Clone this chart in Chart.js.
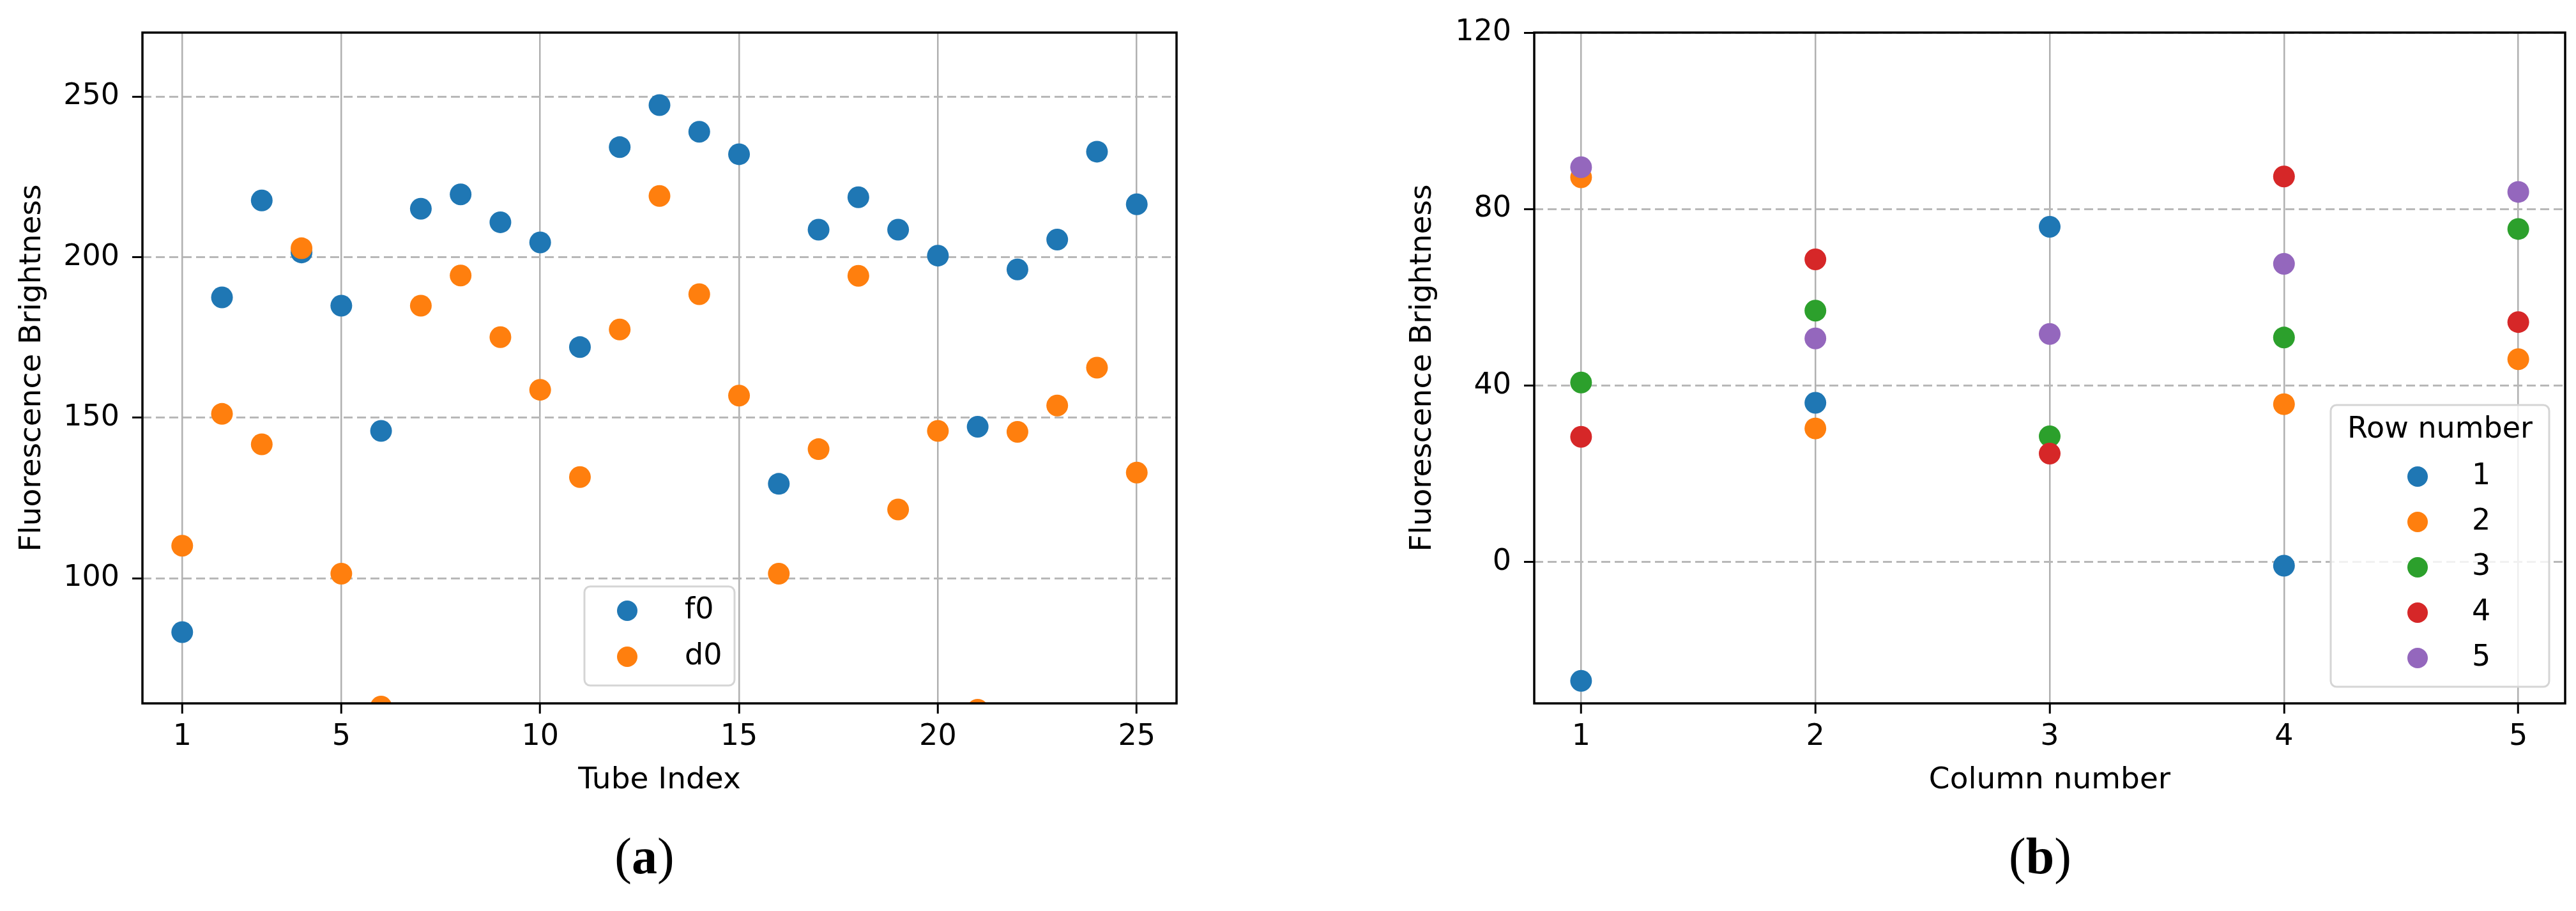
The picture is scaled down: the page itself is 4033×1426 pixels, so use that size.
<!DOCTYPE html>
<html>
<head>
<meta charset="utf-8">
<script src="https://cdn.jsdelivr.net/npm/chart.js@4/dist/chart.umd.min.js"></script>
<style>
  body { margin: 0; width: 4033px; height: 1426px; background: #fff; overflow: hidden; position: relative; }
  .wrap { position: absolute; top: 0; height: 1300px; }
  .panel { position: absolute; top: 1340px; font-family: "Liberation Serif", serif; font-size: 80px; color: #000;
           transform: translate(-50%, -50%); line-height: 1; }
</style>
</head>
<body>
<div class="wrap" style="left:0;width:2000px"><canvas id="chartA"></canvas></div>
<div class="wrap" style="left:2000px;width:2033px"><canvas id="chartB"></canvas></div>
<div class="panel" style="left:1009px">(<b>a</b>)</div>
<div class="panel" style="left:3194px">(<b>b</b>)</div>
<script>
// panel (a) data
const tubeIndex = [1, 2, 3, 4, 5, 6, 7, 8, 9, 10, 11, 12, 13, 14, 15, 16, 17, 18, 19, 20, 21, 22, 23, 24, 25];
const f0 = [83.2, 187.5, 217.7, 201.5, 184.9, 145.9, 215.1, 219.6, 210.9, 204.6, 172.0, 234.3, 247.4,
            239.1, 232.1, 129.4, 208.6, 218.7, 208.6, 200.5, 147.2, 196.2, 205.5, 232.9, 216.5];
const d0 = [110.1, 151.2, 141.7, 202.8, 101.4, 60.0, 184.9, 194.3, 175.1, 158.7, 131.5, 177.5, 219.1,
            188.5, 156.9, 101.4, 140.2, 194.2, 121.4, 145.9, 59.0, 145.6, 153.8, 165.6, 132.9];
const tubeTicks = [1, 5, 10, 15, 20, 25];
const brightTicksA = [100, 150, 200, 250];

// panel (b) data, one array per row, null = not visible in the figure
const columns = [1, 2, 3, 4, 5];
const row1 = [-26.9, 36.1, 76.0, -0.8, null];
const row2 = [87.2, 30.3, null, 35.8, 46.0];
const row3 = [40.7, 57.0, 28.5, 50.9, 75.5];
const row4 = [28.4, 68.6, 24.6, 87.4, 54.4];
const row5 = [89.5, 50.7, 51.7, 67.6, 83.9];
const rowLabels = ['1', '2', '3', '4', '5'];
const columnTicks = [1, 2, 3, 4, 5];
const brightTicksB = [0, 40, 80, 120];

const tab = ['#1f77b4', '#ff7f0e', '#2ca02c', '#d62728', '#9467bd'];
const FONT = 'DejaVu Sans';

const toPoints = (xs, ys) => xs.map((x, i) => ({x: x, y: ys[i]})).filter(p => p.y !== null);

// full black box around the plot area
const frame = {
  id: 'frame',
  afterDatasetsDraw(chart) {
    const {ctx, chartArea: a} = chart;
    ctx.save();
    ctx.strokeStyle = '#000';
    ctx.lineWidth = 3.5;
    ctx.strokeRect(a.left, a.top, a.right - a.left, a.bottom - a.top);
    ctx.restore();
  }
};

// matplotlib-like legend box inside the plot
const boxLegend = {
  id: 'boxLegend',
  afterDraw(chart, args, o) {
    const {ctx, chartArea: a} = chart;
    const left = o.align === 'center' ? (a.left + a.right) / 2 - o.width / 2 : a.right - o.gapRight - o.width;
    const top = a.bottom - o.gapBottom - o.height;
    ctx.save();
    ctx.beginPath();
    ctx.roundRect(left, top, o.width, o.height, 9);
    ctx.fillStyle = 'rgba(255,255,255,0.8)';
    ctx.fill();
    ctx.lineWidth = 3;
    ctx.strokeStyle = '#d5d5d5';
    ctx.stroke();
    ctx.fillStyle = '#000';
    ctx.textBaseline = 'middle';
    ctx.font = '46px "' + FONT + '"';
    if (o.title) {
      ctx.textAlign = 'center';
      ctx.fillText(o.title, left + o.width / 2, top + o.titleRow);
    }
    ctx.textAlign = 'left';
    chart.data.datasets.forEach((ds, i) => {
      const y = top + o.firstRow + i * o.rowH;
      ctx.beginPath();
      ctx.arc(left + o.markerDx, y, 16, 0, Math.PI * 2);
      ctx.fillStyle = ds.backgroundColor;
      ctx.fill();
      ctx.fillStyle = '#000';
      ctx.fillText(ds.label, left + o.textDx, y);
    });
    ctx.restore();
  }
};

function axisX(min, max, ticks, title, titlePad, height) {
  return {
    type: 'linear', min: min, max: max,
    afterBuildTicks: axis => { axis.ticks = ticks.map(v => ({value: v})); },
    afterFit: axis => { axis.height = height; },
    grid: { color: '#b0b0b0', lineWidth: 2.5, tickColor: '#000', tickWidth: 3, tickLength: 16 },
    border: { display: false },
    ticks: { color: '#000', font: {family: FONT, size: 46}, padding: 9, maxRotation: 0, autoSkip: false },
    title: { display: true, text: title, color: '#000', font: {family: FONT, size: 47}, padding: {top: 0, bottom: titlePad} }
  };
}

function axisY(min, max, ticks, title, titlePad, width) {
  return {
    type: 'linear', min: min, max: max,
    afterBuildTicks: axis => { axis.ticks = ticks.map(v => ({value: v})); },
    afterFit: axis => { axis.width = width; },
    grid: { color: '#b8b8b8', lineWidth: 3, tickColor: '#000', tickWidth: 3, tickLength: 16 },
    border: { display: false, dash: [14, 7] },
    ticks: { color: '#000', font: {family: FONT, size: 46}, padding: 20, autoSkip: false },
    title: { display: true, text: title, color: '#000', font: {family: FONT, size: 47}, padding: {top: titlePad, bottom: 0} }
  };
}

const common = {
  responsive: true,
  maintainAspectRatio: false,
  devicePixelRatio: 1,
  animation: false,
  events: [],
  plugins: { legend: { display: false }, tooltip: { enabled: false } }
};

new Chart(document.getElementById('chartA'), {
  type: 'scatter',
  data: {
    datasets: [
      { label: 'f0', data: toPoints(tubeIndex, f0), backgroundColor: tab[0], pointRadius: 17, borderWidth: 0, clip: 0, order: 1 },
      { label: 'd0', data: toPoints(tubeIndex, d0), backgroundColor: tab[1], pointRadius: 17, borderWidth: 0, clip: 0, order: 0 }
    ]
  },
  options: Object.assign({}, common, {
    layout: { padding: { left: 0, top: 51, right: 158, bottom: 0 } },
    scales: {
      x: axisX(0, 26, tubeTicks, 'Tube Index', 50, 199),
      y: axisY(61, 270, brightTicksA, 'Fluorescence Brightness', 23, 223)
    },
    plugins: Object.assign({}, common.plugins, {
      boxLegend: { align: 'center', width: 235, height: 155, gapBottom: 28, markerDx: 67, textDx: 157, firstRow: 38, rowH: 72 }
    })
  }),
  plugins: [frame, boxLegend]
});

const rows = [row1, row2, row3, row4, row5];
new Chart(document.getElementById('chartB'), {
  type: 'scatter',
  data: {
    datasets: rows.map((r, i) => ({
      label: rowLabels[i], data: toPoints(columns, r), backgroundColor: tab[i],
      pointRadius: 17, borderWidth: 0, clip: 0, order: rows.length - i
    }))
  },
  options: Object.assign({}, common, {
    layout: { padding: { left: 0, top: 51, right: 14, bottom: 0 } },
    scales: {
      x: axisX(0.8, 5.2, columnTicks, 'Column number', 50, 199),
      y: axisY(-32, 120, brightTicksB, 'Fluorescence Brightness', 200, 402)
    },
    plugins: Object.assign({}, common.plugins, {
      boxLegend: { align: 'right', title: 'Row number', width: 342, height: 441, gapRight: 25, gapBottom: 26,
                   titleRow: 39, markerDx: 136, textDx: 221, firstRow: 112, rowH: 71 }
    })
  }),
  plugins: [frame, boxLegend]
});
</script>
</body>
</html>
